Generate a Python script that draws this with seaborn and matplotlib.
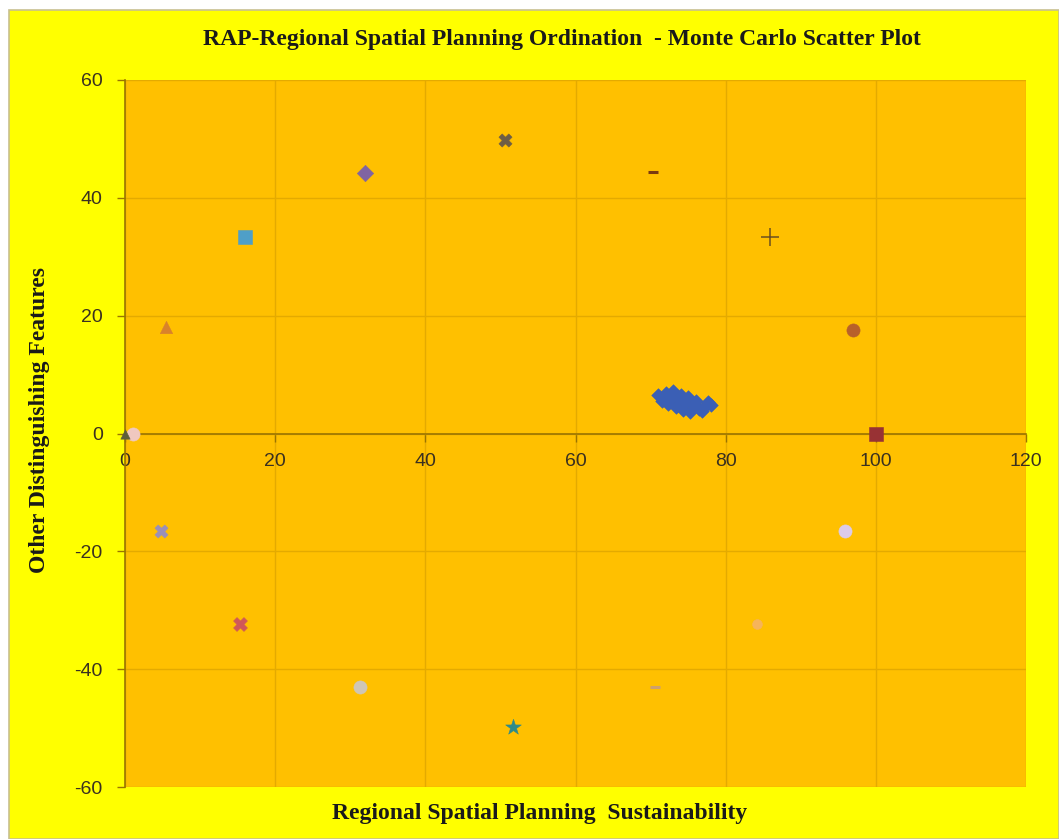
import matplotlib
matplotlib.use("Agg")
import matplotlib.pyplot as plt
from matplotlib.patches import Rectangle
import seaborn as sns
import pandas as pd

plt.rcParams["axes.unicode_minus"] = False

# ---------------- data ----------------
cluster_x = [71.0, 71.5, 72.0, 72.3, 72.8, 73.0, 73.4, 73.8, 74.0, 74.3,
             74.6, 75.0, 75.3, 75.7, 76.0, 76.4, 76.8, 77.2, 77.6, 78.0]
cluster_y = [6.5, 5.5, 6.8, 5.0, 6.0, 7.2, 4.5, 5.8, 6.6, 4.0,
             5.2, 6.2, 3.6, 4.8, 5.6, 4.2, 3.8, 4.6, 5.3, 4.9]

ref_names = ["good", "zero2", "origin", "up1", "up2", "up3", "up4",
             "up5", "up6", "up7", "dn7", "dn6", "dn5", "dn4", "dn3", "dn2", "dn1"]
ref_x = [100.0, 1.1, 0.0, 5.5, 16.0, 32.0, 50.6, 70.3, 85.9, 96.9,
         95.9, 84.2, 70.6, 51.7, 31.3, 15.3, 4.8]
ref_y = [0.0, 0.0, 0.0, 18.0, 33.3, 44.2, 49.9, 44.3, 33.3, 17.5,
         -16.5, -32.3, -43.1, -49.9, -43.1, -32.4, -16.5]

x_ticks = [0, 20, 40, 60, 80, 100, 120]
y_ticks = [-60, -40, -20, 0, 20, 40, 60]

title = "RAP-Regional Spatial Planning Ordination  - Monte Carlo Scatter Plot"
xlabel = "Regional Spatial Planning  Sustainability"
ylabel = "Other Distinguishing Features"

# ---------------- styles ----------------
colors = {
    "cluster": "#3B5FB5", "good": "#983234", "origin": "#5E5E3A", "zero2": "#F0C8C0",
    "up1": "#D9822B", "up2": "#4F9FC8", "up3": "#8064A2", "up4": "#6E5E45",
    "up5": "#7A3A10", "up6": "#6B5020", "up7": "#B8612A",
    "dn7": "#DCCBEA", "dn6": "#F6B45A", "dn5": "#CDA070", "dn4": "#2E8A8A",
    "dn3": "#CFC6B6", "dn2": "#D05858", "dn1": "#9A90B8",
}
markers = {
    "cluster": "D", "good": "s", "origin": "^", "zero2": "o",
    "up1": "^", "up2": "s", "up3": "D", "up4": "X",
    "up5": "_", "up6": "+", "up7": "o",
    "dn7": "o", "dn6": "o", "dn5": "_", "dn4": "*",
    "dn3": "o", "dn2": "X", "dn1": "X",
}
sizes = {
    "cluster": 48, "good": 110, "origin": 45, "zero2": 90,
    "up1": 80, "up2": 110, "up3": 70, "up4": 90,
    "up5": 60, "up6": 160, "up7": 90,
    "dn7": 90, "dn6": 50, "dn5": 50, "dn4": 140,
    "dn3": 90, "dn2": 100, "dn1": 90,
}

df = pd.DataFrame({
    "x": cluster_x + ref_x,
    "y": cluster_y + ref_y,
    "series": ["cluster"] * len(cluster_x) + ref_names,
})

# ---------------- figure ----------------
W, H = 1059, 839
fig = plt.figure(figsize=(W / 100, H / 100), dpi=100, facecolor="white")
fig.patches.append(Rectangle((9 / W, 0), 1 - 9 / W, 1 - 10 / H, transform=fig.transFigure,
                             facecolor="#FFFF00", edgecolor="#C8C090", linewidth=1.2, zorder=-10))

ax = fig.add_axes([125 / W, 1 - 787 / H, (1026 - 125) / W, (787 - 80) / H])
ax.set_facecolor("#FFC000")

line_markers = {"_", "+"}
for name, grp in df.groupby("series", sort=False):
    m = markers[name]
    if m in line_markers:
        sns.scatterplot(data=grp, x="x", y="y", ax=ax, marker=m, color=colors[name],
                        s=sizes[name], linewidth=2.2 if m == "_" else 1.1, legend=False,
                        zorder=5, clip_on=False)
    else:
        sns.scatterplot(data=grp, x="x", y="y", ax=ax, marker=m, color=colors[name],
                        s=sizes[name], linewidth=0.4, edgecolor=colors[name], legend=False,
                        zorder=5, clip_on=False)

ax.set_xlim(0, 120)
ax.set_ylim(-60, 60)
ax.set_xticks(x_ticks)
ax.set_yticks(y_ticks)
ax.grid(True, color="#E4AA00", linewidth=1.0)
ax.set_axisbelow(True)

for s in ["top", "right"]:
    ax.spines[s].set_visible(False)
ax.spines["bottom"].set_position(("data", 0))
ax.spines["bottom"].set_color("#9A7400")
ax.spines["left"].set_color("#9A7400")
ax.spines["bottom"].set_linewidth(1.2)
ax.spines["left"].set_linewidth(1.2)
ax.tick_params(axis="both", colors="#9A7400", labelcolor="#3A3020", labelsize=14, length=6, width=1)
ax.tick_params(axis="x", pad=8)
ax.tick_params(axis="y", pad=10)
for lab in ax.get_xticklabels() + ax.get_yticklabels():
    lab.set_fontfamily("Liberation Sans")

ax.set_xlabel("")
ax.set_ylabel("")

fig.text(562 / W, 1 - 40 / H, title, ha="center", va="center", fontsize=17,
         fontweight="bold", family="Liberation Serif", color="#1A1A1A")
fig.text(540 / W, 1 - 813 / H, xlabel, ha="center", va="center", fontsize=17,
         fontweight="bold", family="Liberation Serif", color="#1A1A1A")
fig.text(40 / W, 1 - 420 / H, ylabel, ha="center", va="center", fontsize=17,
         fontweight="bold", family="Liberation Serif", color="#1A1A1A", rotation=90)

fig.savefig("out.png", dpi=100, facecolor=fig.get_facecolor())
